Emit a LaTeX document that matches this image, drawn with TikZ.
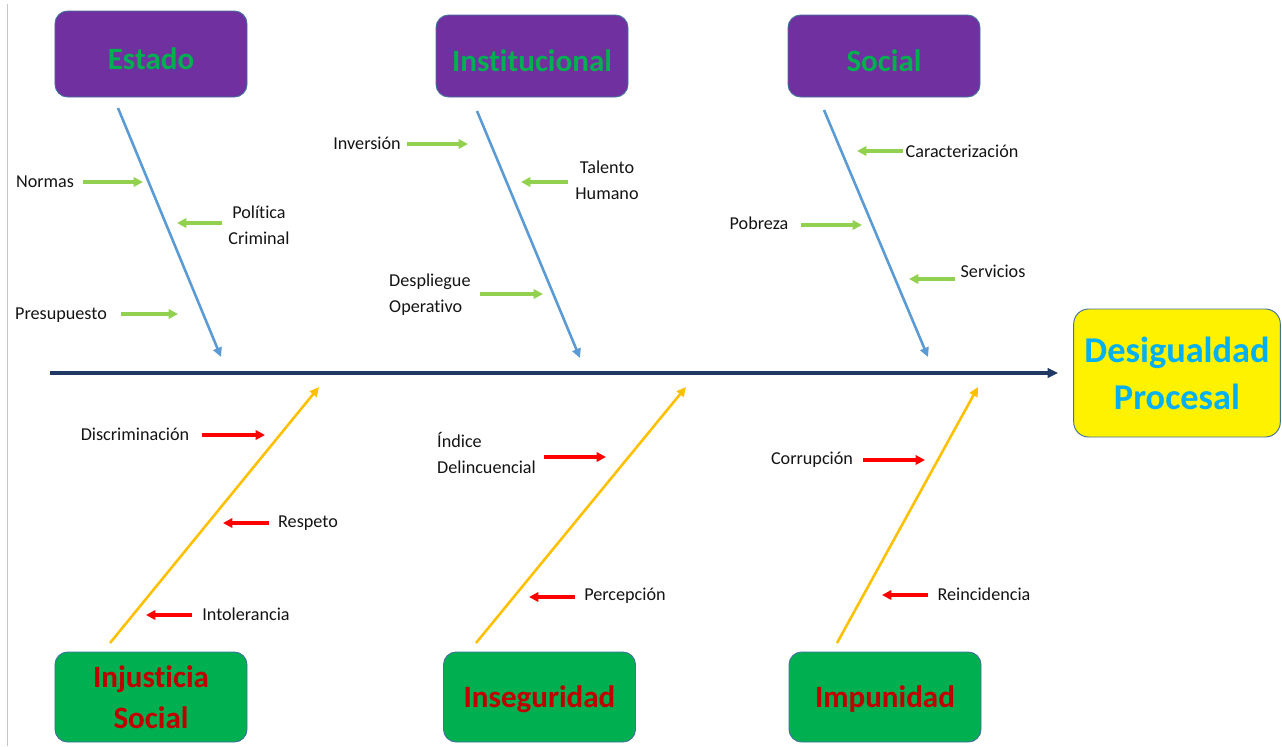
\documentclass[tikz,border=0pt]{standalone}
\usepackage{fontspec}
\setmainfont{Carlito}[Ligatures=NoCommon]
\usepackage{xcolor}
\usepackage{tikz}
\usetikzlibrary{shapes,arrows.meta}
\definecolor{catpurple}{HTML}{7030A0}
\definecolor{catgreen}{HTML}{00B050}
\definecolor{catred}{HTML}{C00000}
\definecolor{boxedge}{HTML}{41719C}
\definecolor{effcyan}{HTML}{00B0F0}
\definecolor{bonesblue}{HTML}{5B9BD5}
\definecolor{bonesgold}{HTML}{FFC000}
\definecolor{causegreen}{HTML}{92D050}
\definecolor{causered}{HTML}{FF0000}
\definecolor{spinenavy}{HTML}{203864}
\tikzstyle{catbox} = [rectangle, rounded corners=0.38cm, draw=boxedge, line width=0.8pt, minimum width=5.76cm, text centered, font=\fontsize{26.5}{35}\selectfont\bfseries]
\tikzstyle{topcat} = [catbox, fill=catpurple, text=catgreen, minimum height=2.46cm, text height=27pt, text depth=0pt]
\tikzstyle{botcat} = [catbox, fill=catgreen, text=catred, minimum height=2.7cm, align=center, text depth=0pt]
\tikzstyle{effect} = [rectangle, rounded corners=0.45cm, draw=boxedge, line width=0.8pt, fill=yellow, text=effcyan, minimum width=6.2cm, minimum height=3.84cm, align=center, font=\fontsize{31}{40}\selectfont\bfseries]
\tikzstyle{cause} = [inner sep=0pt, text=black!92, font=\fontsize{15.5}{22}\selectfont]
\tikzstyle{greenline} = [draw=causegreen, line width=2.6pt, -{Triangle[length=8pt,width=8pt]}]
\tikzstyle{redline} = [draw=causered, line width=2.6pt, -{Triangle[length=8pt,width=8pt]}]
\tikzstyle{bluebone} = [draw=bonesblue, line width=2.2pt, -{Triangle[length=8pt,width=7.5pt]}]
\tikzstyle{goldbone} = [draw=bonesgold, line width=2.2pt, -{Triangle[length=8pt,width=7.5pt]}]
\tikzstyle{spine} = [draw=spinenavy, line width=2.6pt, -{Triangle[length=9pt,width=8pt]}]

\begin{document}
\begin{tikzpicture}[x=0.03cm, y=-0.03cm]
\useasboundingbox (0,0) rectangle (1282,746);
\draw [gray!45, line width=0.8pt] (7.5,4) -- (7.5,746);

\node [topcat, minimum height=2.58cm] (estado) at (151,54) {Estado};
\node [topcat] (instit) at (532,56) {Institucional};
\node [topcat] (social) at (884,56) {Social};
\node [botcat] (injust) at (151,697) {Injusticia\\Social};
\node [botcat] (insegu) at (539.5,697) {Inseguridad};
\node [botcat] (impuni) at (885,697) {Impunidad};
\node [effect] (desig) at (1177,373) {Desigualdad\\Procesal};

\coordinate (tail) at (50,373);
\path [spine, shorten >=0.45cm] (tail) -- (desig);

\coordinate (e0) at (118,108);
\coordinate (e1) at (221,357);
\coordinate (i0) at (477,111);
\coordinate (i1) at (580,358);
\coordinate (s0) at (824,110);
\coordinate (s1) at (928,357);
\path [bluebone] (e0) -- (e1);
\path [bluebone] (i0) -- (i1);
\path [bluebone] (s0) -- (s1);

\coordinate (j0) at (110,643);
\coordinate (j1) at (319,387);
\coordinate (g0) at (476,643);
\coordinate (g1) at (686,387);
\coordinate (p0) at (837,643);
\coordinate (p1) at (978,387);
\path [goldbone] (j0) -- (j1);
\path [goldbone] (g0) -- (g1);
\path [goldbone] (p0) -- (p1);

\node [cause] (normas) at (45,182) {Normas};
\node [cause, align=center] (politica) at (259,225) {Política\\Criminal};
\node [cause] (presup) at (61,315) {Presupuesto};
\node [cause] (inversion) at (367,143) {Inversión};
\node [cause, align=center] (talento) at (607,180) {Talento\\Humano};
\node [cause, align=left, anchor=west] (despl) at (389,295) {Despliegue\\Operativo};
\node [cause] (caract) at (962,151) {Caracterización};
\node [cause] (pobreza) at (759,223) {Pobreza};
\node [cause] (servicios) at (993,271) {Servicios};

\coordinate (normas-t) at (143,182);
\coordinate (politica-t) at (177,223);
\coordinate (presup-t) at (178,314);
\coordinate (inversion-t) at (468,144);
\coordinate (talento-t) at (521,182);
\coordinate (despl-t) at (543,294);
\coordinate (caract-t) at (857,151);
\coordinate (pobreza-t) at (862,225);
\coordinate (servicios-t) at (909,279);

\path [greenline, shorten <=0.27cm] (normas.east |- normas-t) -- (normas-t);
\path [greenline, shorten <=0.18cm] (politica.west |- politica-t) -- (politica-t);
\path [greenline, shorten <=0.42cm] (presup.east |- presup-t) -- (presup-t);
\path [greenline, shorten <=0.18cm] (inversion.east |- inversion-t) -- (inversion-t);
\path [greenline, shorten <=0.21cm] (talento.west |- talento-t) -- (talento-t);
\path [greenline, shorten <=0.27cm] (despl.east |- despl-t) -- (despl-t);
\path [greenline, shorten <=0.06cm] (caract.west |- caract-t) -- (caract-t);
\path [greenline, shorten <=0.36cm] (pobreza.east |- pobreza-t) -- (pobreza-t);
\path [greenline, shorten <=0.15cm] (servicios.west |- servicios-t) -- (servicios-t);

\node [cause] (discrim) at (135,434) {Discriminación};
\node [cause] (respeto) at (308,523) {Respeto};
\node [cause] (intoler) at (246,614) {Intolerancia};
\node [cause, align=left, anchor=west] (indice) at (437,453) {Índice\\Delincuencial};
\node [cause] (percep) at (625,596) {Percepción};
\node [cause] (corrup) at (812,460) {Corrupción};
\node [cause] (reinc) at (984,594) {Reincidencia};

\coordinate (discrim-t) at (265,435);
\coordinate (respeto-t) at (223,523);
\coordinate (intoler-t) at (146,615);
\coordinate (indice-t) at (606,457);
\coordinate (percep-t) at (529,597);
\coordinate (corrup-t) at (925,460);
\coordinate (reinc-t) at (882,595);

\path [redline, shorten <=0.39cm] (discrim.east |- discrim-t) -- (discrim-t);
\path [redline, shorten <=0.27cm] (respeto.west |- respeto-t) -- (respeto-t);
\path [redline, shorten <=0.3cm] (intoler.west |- intoler-t) -- (intoler-t);
\path [redline, shorten <=0.24cm] (indice.east |- indice-t) -- (indice-t);
\path [redline, shorten <=0.27cm] (percep.west |- percep-t) -- (percep-t);
\path [redline, shorten <=0.3cm] (corrup.east |- corrup-t) -- (corrup-t);
\path [redline, shorten <=0.27cm] (reinc.west |- reinc-t) -- (reinc-t);
\end{tikzpicture}
\end{document}
